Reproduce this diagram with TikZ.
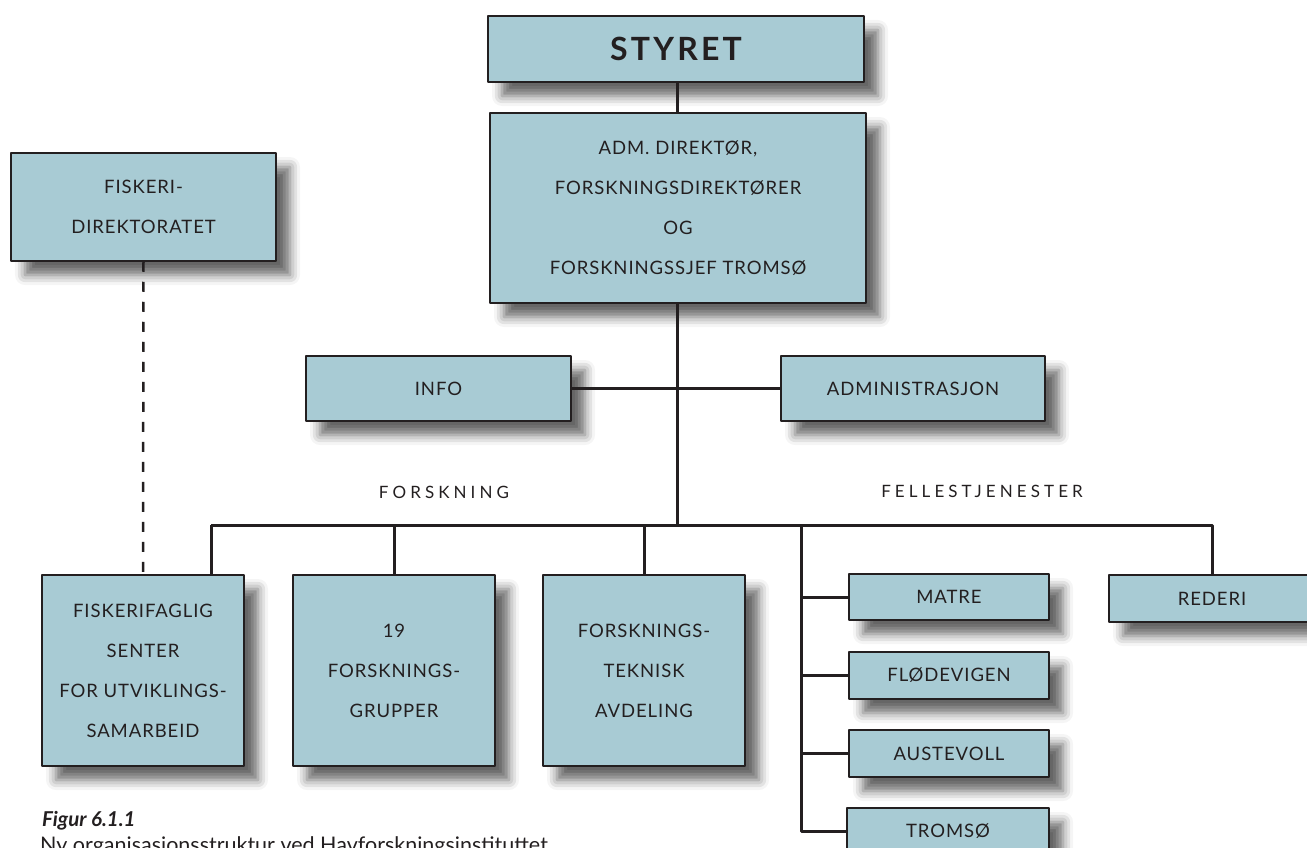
\documentclass[tikz,border=0pt]{standalone}
\usepackage{fontspec}
\setmainfont{Lato}
\usetikzlibrary{shadows.blur}
\definecolor{boksblaa}{RGB}{168,203,212}
\definecolor{strek}{RGB}{35,31,32}
\begin{document}
\begin{tikzpicture}[x=1pt,y=-1pt,line join=round,
	boks/.style={draw=strek,line width=1.5pt,fill=boksblaa,inner sep=0pt,align=center,
		text=strek,font=\fontsize{18.5}{40}\selectfont\addfontfeature{LetterSpace=5},
		blur shadow={shadow xshift=14pt,shadow yshift=-14pt,shadow blur radius=10pt,shadow opacity=60}},
	linje/.style={draw=strek,line width=3pt},
	sperret/.style={text=strek,font=\fontsize{17}{20}\selectfont\addfontfeature{LetterSpace=24}}]
	\useasboundingbox (0,0) rectangle (1307,848);
	\clip (0,0) rectangle (1307,848);
	%==Boksene
	\node[boks,minimum width=376pt,minimum height=66pt] (styret) at (676,49)
		{\fontsize{32}{36}\selectfont\bfseries\addfontfeature{LetterSpace=10}STYRET};
	\node[boks,minimum width=376pt,minimum height=190pt] (adm) at (678,208)
		{ADM. DIREKTØR,\\FORSKNINGSDIREKTØRER\\OG\\FORSKNINGSSJEF TROMSØ};
	\node[boks,minimum width=265pt,minimum height=108pt] (fdir) at (143.5,207) {FISKERI-\\DIREKTORATET};
	\node[boks,minimum width=265pt,minimum height=65pt] (info) at (438.5,388.5) {INFO};
	\node[boks,minimum width=264pt,minimum height=65pt] (admin) at (913,388.5) {ADMINISTRASJON};
	\node[boks,minimum width=202pt,minimum height=191pt] (ffs) at (143,670.5)
		{FISKERIFAGLIG\\SENTER\\FOR UTVIKLINGS-\\SAMARBEID};
	\node[boks,minimum width=202pt,minimum height=191pt] (fgr) at (394,670.5)
		{19\\FORSKNINGS-\\GRUPPER};
	\node[boks,minimum width=202pt,minimum height=191pt] (ftek) at (644,670.5)
		{FORSKNINGS-\\TEKNISK\\AVDELING};
	\node[boks,minimum width=200pt,minimum height=46pt] (matre) at (949,597) {MATRE};
	\node[boks,minimum width=200pt,minimum height=47pt] (flode) at (949,675.5) {FLØDEVIGEN};
	\node[boks,minimum width=200pt,minimum height=47pt] (auste) at (949,753.5) {AUSTEVOLL};
	\node[boks,minimum width=202pt,minimum height=47pt] (troms) at (948,831.5) {TROMSØ};
	\node[boks,minimum width=206pt,minimum height=47pt] (rederi) at (1212,598.5) {REDERI};
	%==Overskrifter
	\node[sperret] (forsk) at (444,492) {FORSKNING};
	\node[sperret] (felles) at (982,491) {FELLESTJENESTER};
	%==Linjer
	\coordinate (midt) at (677,525);
	\coordinate (bv) at (211,525);
	\coordinate (fs) at (801,525);
	\draw[linje] (styret.south -| midt)--(adm.north -| midt);
	\draw[linje] (adm.south -| midt)--(midt);
	\draw[linje] (info.east)--(admin.west);
	\draw[linje] (bv)--(rederi.north |- midt)--(rederi.north);
	\draw[linje] (bv)--(bv |- ffs.north);
	\draw[linje] (fgr.north |- midt)--(fgr.north);
	\draw[linje] (ftek.north |- midt)--(ftek.north);
	\draw[linje] (fs)--(fs |- troms.west)--(troms.west);
	\foreach \n in {matre,flode,auste}
		\draw[linje] (fs |- \n.west)--(\n.west);
	\draw[strek,line width=2.5pt,dash pattern=on 10pt off 10pt] (fdir.south)--(ffs.north);
	%==Figurtekst
	\node[anchor=base west,inner sep=0pt,text=strek,font=\fontsize{20.5}{22}\selectfont\bfseries\itshape] (figur) at (42,826) {Figur 6.1.1};
	\node[anchor=north west,inner sep=0pt,text=strek,font=\fontsize{21.5}{24}\selectfont] (tekst) at (40,836) {Ny organisasjonsstruktur ved Havforskningsinstituttet};
\end{tikzpicture}
\end{document}
